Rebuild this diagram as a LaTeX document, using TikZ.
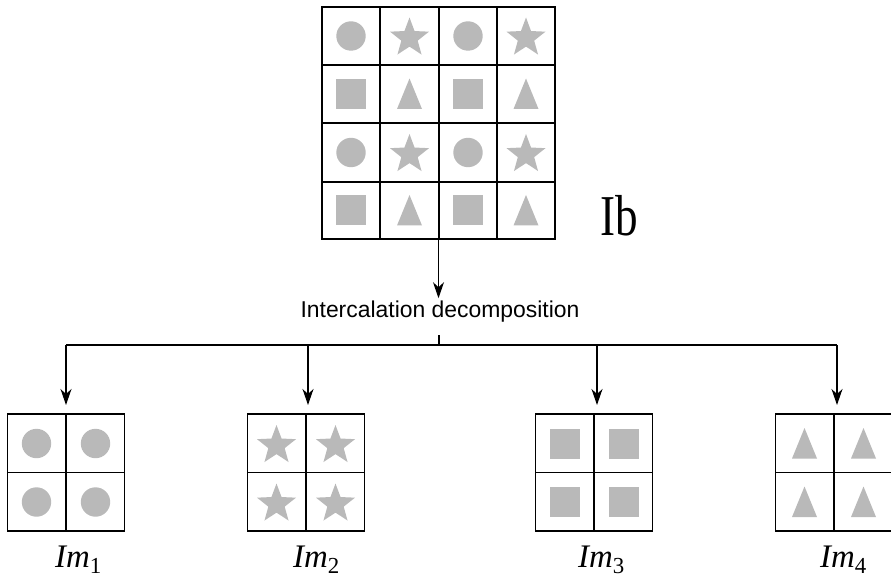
\documentclass[tikz,border=0pt]{standalone}
\usepackage{fontspec}
\setmainfont{Liberation Serif}
\newfontfamily\labsans{Liberation Sans}
\usetikzlibrary{arrows.meta}
\definecolor{shapegray}{RGB}{185,185,185}
\tikzset{
  gridbox/.style={draw, line width=1.3bp, inner sep=0pt, outer sep=0pt},
  thingrid/.style={line width=1.2bp},
  thickgrid/.style={line width=2.2bp},
  conn/.style={line width=1.2bp},
  arr/.style={-{Stealth[length=16bp,width=11bp,inset=5bp]}},
  pics/circ/.style={code={\fill[shapegray] (0,0) circle[radius=14.7bp];}},
  pics/sq/.style={code={\fill[shapegray] (-15,-15) rectangle (15,15);}},
  pics/tri/.style={code={\fill[shapegray] (0,-15.5) -- (12.5,15) -- (-12.5,15) -- cycle;}},
  pics/starr/.style={code={\fill[shapegray, shift={(0,2)}] (-90:20.5) -- (-54:8.6) -- (-18:20.5) -- (18:8.6) -- (54:20.5) -- (90:8.6) -- (126:20.5) -- (162:8.6) -- (198:20.5) -- (234:8.6) -- cycle;}},
  imlabel/.style={anchor=base west, inner sep=0pt},
}
\newcommand{\imlab}[1]{\fontsize{33}{36}\selectfont\textit{Im}\raisebox{-6bp}{\fontsize{23}{24}\selectfont #1}}
\begin{document}
\begin{tikzpicture}[x=1bp,y=-1bp]
\useasboundingbox (0,0) rectangle (891,577);
\clip (0,0) rectangle (891,577);

% ---- top grid Ib ----
\foreach \yy in {36,152.5} {
  \pic at (351,\yy) {circ}; \pic at (409.5,\yy) {starr};
  \pic at (468,\yy) {circ}; \pic at (526,\yy) {starr};
}
\foreach \yy in {94,210.5} {
  \pic at (351,\yy) {sq}; \pic at (409.5,\yy) {tri};
  \pic at (468,\yy) {sq}; \pic at (526,\yy) {tri};
}
\node[gridbox, minimum width=233bp, minimum height=232bp] (ib) at (438.5,123) {};
\draw[thingrid] (380,7) -- (380,239) (497,7) -- (497,239)
                (322,65) -- (555,65) (322,182) -- (555,182);
\draw[thickgrid] (439,7) -- (439,239) (322,123) -- (555,123);

\node[anchor=base, inner sep=0pt] (iblab) at (619.5,236)
  {\scalebox{0.78}[1]{\fontsize{58}{64}\selectfont Ib}};

% ---- small grids ----
\foreach \m/\s/\n in {66/circ/1, 306/starr/2, 594/sq/3, 834/tri/4} {
  \pic at (\m-29.5,443.5) {\s}; \pic at (\m+29.5,443.5) {\s};
  \pic at (\m-29.5,502) {\s};   \pic at (\m+29.5,502) {\s};
  \node[gridbox, minimum width=117bp, minimum height=117bp] (im\n) at (\m,472.5) {};
  \draw[thingrid] (im\n.north) -- (im\n.south) (im\n.west) -- (im\n.east);
}

\node[imlabel] (l1) at (55,567) {\imlab{1}};
\node[imlabel] (l2) at (293,567) {\imlab{2}};
\node[imlabel] (l3) at (578,567) {\imlab{3}};
\node[imlabel] (l4) at (820,567) {\imlab{4}};

% ---- connectors ----
\node[anchor=base, inner sep=2bp, font=\labsans\fontsize{23}{26}\selectfont] (dec) at (440,317)
  {Intercalation decomposition};
\draw[conn, arr] (ib.south) -- (ib.south |- dec.north);

\coordinate (s0) at (439,335);
\coordinate (j0) at (439,345);
\coordinate (j1) at (66,345);
\coordinate (j2) at (308,345);
\coordinate (j3) at (597,345);
\coordinate (j4) at (837,345);
\draw[conn] (s0) -- (j0);
\draw[conn] (j1) -- (j4);
\foreach \i in {1,2,3,4} {
  \draw[conn, arr, shorten >=9bp] (j\i) -- (j\i |- im\i.north);
}
\end{tikzpicture}
\end{document}
